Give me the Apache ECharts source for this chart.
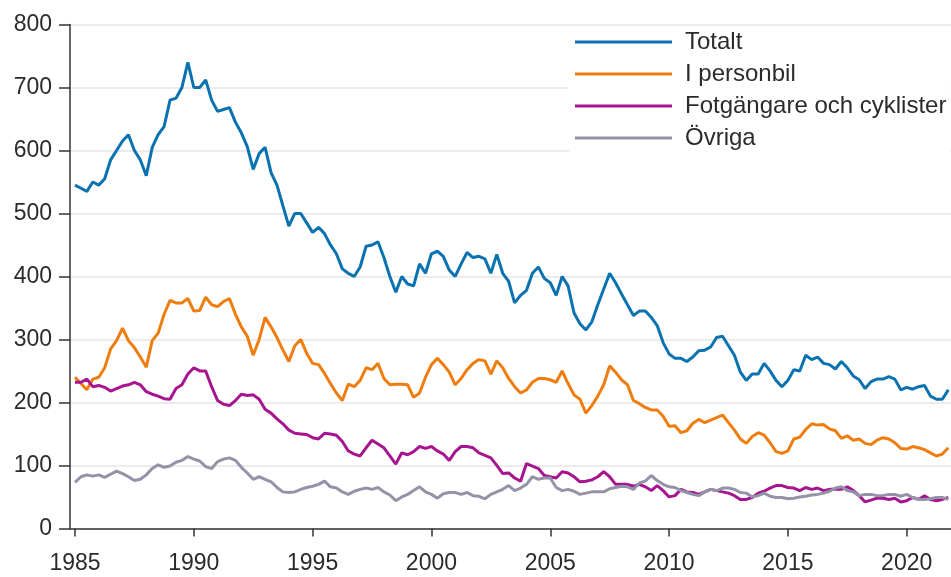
<!DOCTYPE html>
<html><head><meta charset="utf-8">
<script src="https://cdn.jsdelivr.net/npm/echarts@6/dist/echarts.min.js"></script>
<style>html,body{margin:0;padding:0;background:#fff}#c{width:951px;height:577px}</style>
</head><body><div id="c"></div>
<script>
// Quarterly readings, first value at 1985.0, step 0.25 year
const startYear = 1985;
const stepYear = 0.25;
const seriesNames = ['Totalt', 'I personbil', 'Fotgängare och cyklister', 'Övriga'];
const totalt = [
545,540,535,550, 545,555,585,600, 615,625,600,585, 560,605,625,638, 680,683,700,740,
700,700,712,680, 662,665,668,645, 628,606,570,595, 605,565,545,512, 480,500,500,485,
470,478,468,450, 436,412,405,400, 415,448,450,455, 430,400,375,400, 388,385,420,405,
436,440,432,410, 400,420,438,430, 432,428,405,435, 405,392,358,370, 378,405,415,397,
390,370,400,385, 342,325,315,328, 355,380,405,390, 372,355,338,345, 345,335,322,295,
277,270,270,265, 272,282,283,288, 303,305,290,275, 248,235,245,245, 262,250,235,225,
235,252,250,275, 268,272,262,260, 253,265,255,242, 236,222,233,237, 237,241,237,220,
224,221,225,227, 210,205,205,220
];
const personbil = [
240,230,220,237, 240,255,285,298, 318,298,287,272, 256,298,310,340, 362,358,358,365,
345,346,367,355, 352,360,365,340, 320,305,275,300, 335,320,303,283, 265,290,300,278,
262,260,246,230, 215,203,229,225, 235,255,252,262, 238,228,229,229, 228,208,215,240,
260,270,260,248, 228,238,252,262, 268,266,245,266, 255,238,225,215, 220,232,238,238,
236,232,250,230, 212,205,183,195, 210,228,258,248, 236,228,203,198, 192,188,188,178,
162,163,152,155, 167,173,168,172, 176,180,168,156, 142,135,146,152, 148,136,122,119,
123,142,145,157, 166,164,165,158, 155,143,147,140, 142,135,133,140, 144,142,136,127,
126,130,128,125, 120,115,118,128
];
const fotgangare = [
232,232,237,225, 227,224,218,222, 226,228,232,228, 217,213,210,206, 205,222,228,245,
255,250,250,225, 203,197,195,203, 213,211,212,205, 189,183,174,166, 156,151,150,149,
144,142,151,150, 148,138,123,118, 115,128,140,134, 128,115,102,120, 117,122,130,127,
130,123,118,108, 122,130,130,128, 120,116,112,100, 87,88,80,75, 103,99,95,84,
82,80,90,88, 82,74,75,77, 82,90,82,70, 70,70,67,70, 66,60,68,60,
50,52,62,58, 57,54,58,62, 60,58,56,52, 46,46,49,56, 59,64,68,68,
65,64,60,65, 62,64,60,62, 62,62,66,60, 52,42,45,48, 48,46,48,42,
44,49,46,52, 46,44,46,49
];
const ovriga = [
73,82,85,83, 85,81,86,91, 87,82,76,78, 85,95,101,97, 99,105,108,114,
110,107,98,95, 106,110,112,108, 97,88,78,82, 78,74,65,58, 57,58,62,65,
67,70,75,66, 64,58,54,59, 62,64,62,65, 58,53,44,50, 54,60,66,58,
54,48,55,57, 57,54,57,52, 51,47,54,58, 62,68,60,64, 70,82,78,80,
80,65,60,62, 59,54,56,58, 58,58,63,65, 67,66,62,72, 75,84,76,70,
66,65,60,57, 54,52,58,62, 60,64,64,62, 57,56,50,52, 56,51,49,49,
47,48,50,51, 53,54,56,59, 64,66,60,58, 52,54,54,52, 52,54,54,51,
54,49,46,46, 47,49,49,46
];
const xTickYears = [1985, 1990, 1995, 2000, 2005, 2010, 2015, 2020];
const colors = ['#0a72b0', '#ef7d0e', '#a6158f', '#9393a8'];

function toPairs(vals) { return vals.map((v, i) => [startYear + i * stepYear, v]); }
const allValues = [totalt, personbil, fotgangare, ovriga];

const chart = echarts.init(document.getElementById('c'), null, {renderer: 'canvas'});
const font = 'Liberation Sans, Arial, sans-serif';
chart.setOption({
  animation: false,
  backgroundColor: '#fff',
  color: colors,
  grid: {left: 70, right: 0, top: 24.5, bottom: 48.6, containLabel: false},
  legend: {
    orient: 'vertical', left: 569, top: 26, padding: [4, 4, 8, 6],
    backgroundColor: '#fff', itemWidth: 97, itemHeight: 3, itemGap: 8, icon: 'rect',
    textStyle: {fontSize: 24, color: '#2b2b2b', fontFamily: font, padding: [0, 0, 0, 8], lineHeight: 24},
    data: seriesNames
  },
  xAxis: {
    type: 'value', min: 1984.79, max: 2021.864, offset: 7,
    axisLine: {show: true, lineStyle: {color: '#333', width: 1.5}},
    axisTick: {show: true, length: 8, lineStyle: {color: '#333', width: 1.5}, customValues: xTickYears},
    axisLabel: {fontSize: 23, color: '#2b2b2b', fontFamily: font, margin: 17, customValues: xTickYears,
      formatter: v => String(Math.round(v))},
    splitLine: {show: false}
  },
  yAxis: {
    type: 'value', min: 0, max: 800, interval: 100,
    axisLine: {show: true, lineStyle: {color: '#333', width: 1.5}},
    axisTick: {show: true, length: 11, lineStyle: {color: '#333', width: 1.5}},
    axisLabel: {fontSize: 23, color: '#2b2b2b', fontFamily: font, margin: 18},
    splitLine: {show: true, lineStyle: {color: '#e6e6e6', width: 1.5}}
  },
  series: seriesNames.map((n, k) => ({
    name: n, type: 'line', data: toPairs(allValues[k]), showSymbol: false, symbol: 'none',
    lineStyle: {width: 3, color: colors[k]}, itemStyle: {color: colors[k]}
  }))
});
</script></body></html>
